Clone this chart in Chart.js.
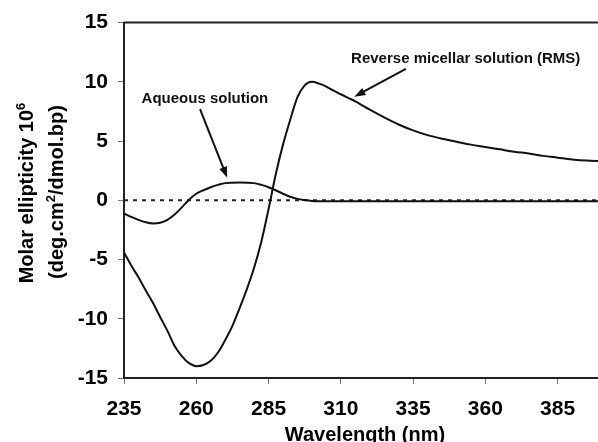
<!DOCTYPE html>
<html>
<head>
<meta charset="utf-8">
<script src="https://cdn.jsdelivr.net/npm/chart.js@4.4.1/dist/chart.umd.min.js"></script>
<style>
  html, body { margin: 0; padding: 0; overflow: hidden; background: #fff; }
</style>
</head>
<body>
<canvas id="cdChart" width="604" height="442"></canvas>
<script>
// Dữ liệu (bước sóng nm, độ elip mol)
const aqWavelength = [235, 237.5, 240, 242.5, 245, 247.5, 250, 252.5, 255, 257.5, 260, 262.5, 265, 267.5, 270, 275, 280, 282.5, 285, 287.5, 290, 292.5, 295, 297.5, 300, 305, 320, 340, 360, 380, 400];
const aqEllipticity = [-1.1, -1.4, -1.65, -1.85, -1.95, -1.9, -1.65, -1.2, -0.6, 0.05, 0.55, 0.85, 1.1, 1.3, 1.45, 1.5, 1.45, 1.3, 1.1, 0.85, 0.55, 0.3, 0.12, 0.02, -0.05, -0.08, -0.08, -0.08, -0.08, -0.08, -0.08];

const rmsWavelength = [235, 237.5, 240, 242.5, 245, 247.5, 250, 252.5, 255, 257.5, 260, 262.5, 265, 267.5, 270, 272.5, 275, 277.5, 280, 282.5, 285, 287.5, 290, 292.5, 295, 297.5, 300, 302.5, 305, 307.5, 310, 312.5, 315, 317.5, 320, 325, 330, 335, 340, 345, 350, 355, 360, 365, 370, 375, 380, 385, 390, 395, 400];
const rmsEllipticity = [-4.4, -5.5, -6.5, -7.6, -8.65, -9.85, -11.0, -12.3, -13.15, -13.75, -14.0, -13.9, -13.55, -12.85, -11.8, -10.6, -9.1, -7.5, -5.7, -3.5, -0.75, 2.2, 4.7, 6.8, 8.7, 9.7, 10.0, 9.85, 9.6, 9.25, 8.95, 8.65, 8.35, 8.0, 7.65, 7.0, 6.4, 5.9, 5.5, 5.2, 4.95, 4.7, 4.5, 4.3, 4.1, 3.95, 3.75, 3.6, 3.45, 3.35, 3.3];

const zeroWavelength = [235, 400];
const zeroValue = [0, 0];

const xTicks = [235, 260, 285, 310, 335, 360, 385];
const yTicks = [-15, -10, -5, 0, 5, 10, 15];

// Chú thích: chữ + mũi tên (đơn vị dữ liệu)
const notes = [
  { text: 'Aqueous solution', x: 263, y: 8.2, from: [261.3, 7.7], to: [270.7, 1.9] },
  { text: 'Reverse micellar solution (RMS)', x: 353.2, y: 11.58, from: [332.5, 11.1], to: [314.7, 8.75] }
];

const FONT = 'Arial, "Liberation Sans", sans-serif';
const INK = '#111';

function toPoints(xs, ys) {
  return xs.map((x, i) => ({ x: x, y: ys[i] }));
}

function drawArrow(c, x1, y1, x2, y2) {
  const ang = Math.atan2(y2 - y1, x2 - x1);
  const head = 11, half = 4;
  const cos = Math.cos(ang), sin = Math.sin(ang);
  c.beginPath();
  c.moveTo(x1, y1);
  c.lineTo(x2 - head * 0.8 * cos, y2 - head * 0.8 * sin);
  c.stroke();
  c.beginPath();
  c.moveTo(x2, y2);
  c.lineTo(x2 - head * cos + half * sin, y2 - head * sin - half * cos);
  c.lineTo(x2 - head * cos - half * sin, y2 - head * sin + half * cos);
  c.closePath();
  c.fill();
}

// Vẽ chữ xoay dọc, có chỉ số trên
function drawVertical(c, parts, baseX, centerY, size) {
  const supSize = Math.round(size * 0.65);
  let total = 0;
  parts.forEach(p => {
    c.font = 'bold ' + (p.sup ? supSize : size) + 'px ' + FONT;
    p.w = c.measureText(p.t).width;
    total += p.w;
  });
  c.save();
  c.translate(baseX, centerY);
  c.rotate(-Math.PI / 2);
  c.textAlign = 'left';
  c.textBaseline = 'alphabetic';
  let x = -total / 2;
  parts.forEach(p => {
    c.font = 'bold ' + (p.sup ? supSize : size) + 'px ' + FONT;
    c.fillText(p.t, x, p.sup ? -size * 0.42 : 0);
    x += p.w;
  });
  c.restore();
}

const overlay = {
  id: 'overlay',
  afterDraw(chart) {
    const c = chart.ctx;
    const area = chart.chartArea;
    const sx = chart.scales.x, sy = chart.scales.y;
    c.save();
    // viền trên
    c.strokeStyle = '#222';
    c.lineWidth = 2;
    c.beginPath();
    c.moveTo(area.left, area.top);
    c.lineTo(area.right, area.top);
    c.stroke();

    // tiêu đề trục
    c.fillStyle = '#000';
    drawVertical(c, [{ t: 'Molar ellipticity 10' }, { t: '6', sup: true }], 33, 193, 20);
    drawVertical(c, [{ t: '(deg.cm' }, { t: '2', sup: true }, { t: '/dmol.bp)' }], 63, 192, 20);
    c.font = 'bold 20px ' + FONT;
    c.textAlign = 'center';
    c.textBaseline = 'alphabetic';
    c.fillText('Wavelength (nm)', 365, 441);

    // chú thích + mũi tên
    c.font = 'bold 15px ' + FONT;
    c.strokeStyle = INK;
    c.fillStyle = INK;
    c.lineWidth = 2;
    notes.forEach(n => {
      c.fillText(n.text, sx.getPixelForValue(n.x), sy.getPixelForValue(n.y));
      drawArrow(c,
        sx.getPixelForValue(n.from[0]), sy.getPixelForValue(n.from[1]),
        sx.getPixelForValue(n.to[0]), sy.getPixelForValue(n.to[1]));
    });
    c.restore();
  }
};

const lineStyle = {
  borderColor: INK,
  borderWidth: 2,
  pointRadius: 0,
  fill: false,
  cubicInterpolationMode: 'monotone'
};

const ctx = document.getElementById('cdChart').getContext('2d');
new Chart(ctx, {
  type: 'line',
  data: {
    datasets: [
      Object.assign({ label: 'RMS', data: toPoints(rmsWavelength, rmsEllipticity) }, lineStyle),
      Object.assign({ label: 'Aqueous', data: toPoints(aqWavelength, aqEllipticity) }, lineStyle),
      {
        label: 'zero',
        data: toPoints(zeroWavelength, zeroValue),
        borderColor: '#222',
        borderWidth: 2,
        borderDash: [4, 5],
        pointRadius: 0
      }
    ]
  },
  options: {
    responsive: false,
    devicePixelRatio: 1,
    animation: false,
    layout: { padding: { left: 0, right: 3, top: 22, bottom: 0 } },
    plugins: {
      legend: { display: false },
      tooltip: { enabled: false }
    },
    scales: {
      x: {
        type: 'linear',
        min: 235,
        max: 400,
        afterBuildTicks: s => { s.ticks = xTicks.map(v => ({ value: v })); },
        afterFit: s => { s.height = 64; },
        grid: { drawOnChartArea: false, drawTicks: true, tickLength: 6, color: '#777' },
        border: { display: true, color: '#222', width: 2 },
        ticks: {
          color: '#000',
          font: { family: FONT, size: 21, weight: 'bold' },
          padding: 13,
          maxRotation: 0,
          autoSkip: false
        }
      },
      y: {
        min: -15,
        max: 15,
        afterBuildTicks: s => { s.ticks = yTicks.map(v => ({ value: v })); },
        afterFit: s => { s.width = 124; },
        grid: { drawOnChartArea: false, drawTicks: true, tickLength: 6, color: '#777' },
        border: { display: true, color: '#222', width: 2 },
        ticks: {
          color: '#000',
          font: { family: FONT, size: 21, weight: 'bold' },
          padding: 10
        }
      }
    }
  },
  plugins: [overlay]
});
</script>
</body>
</html>
